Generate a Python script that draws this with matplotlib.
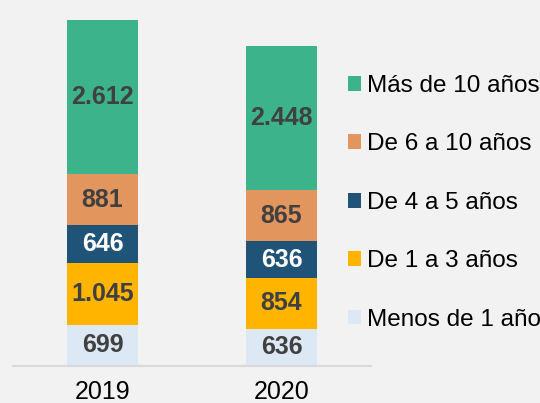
import matplotlib
matplotlib.use("Agg")
import matplotlib.pyplot as plt
from matplotlib.patches import Patch

plt.rcParams["font.family"] = ["Liberation Sans", "DejaVu Sans"]

# datos
years = ["2019", "2020"]
categories = ["Menos de 1 año", "De 1 a 3 años", "De 4 a 5 años",
              "De 6 a 10 años", "Más de 10 años"]
menos_1 = [699, 636]
de_1_3 = [1045, 854]
de_4_5 = [646, 636]
de_6_10 = [881, 865]
mas_10 = [2612, 2448]
series = [menos_1, de_1_3, de_4_5, de_6_10, mas_10]

colors = ["#DDE8F5", "#FFB400", "#1F5478", "#E2955C", "#3DB38B"]
label_colors = ["#404040", "#404040", "white", "#404040", "#404040"]
bg = "#F2F2F2"

fig = plt.figure(figsize=(5.4, 4.03), dpi=100, facecolor=bg)
ax = fig.add_axes([13 / 540, 37 / 403, 358 / 540, 346 / 403], facecolor=bg)

x = list(range(len(years)))
bottom = [0, 0]
for vals, col, lc in zip(series, colors, label_colors):
    ax.bar(x, vals, width=0.4, bottom=bottom, color=col, edgecolor="none")
    for xi, v, b in zip(x, vals, bottom):
        ax.text(xi, b + v / 2, f"{v:,}".replace(",", "."), ha="center",
                va="center", fontsize=18, fontweight="bold", color=lc)
    bottom = [b + v for b, v in zip(bottom, vals)]

ax.set_xlim(-0.5, 1.5)
ax.set_ylim(0, max(bottom))
ax.set_xticks(x)
ax.set_xticklabels(years, fontsize=18, color="black")
ax.tick_params(axis="x", length=0, pad=10)
ax.set_yticks([])
for s in ["top", "right", "left"]:
    ax.spines[s].set_visible(False)
ax.spines["bottom"].set_color("#D9D9D9")
ax.spines["bottom"].set_linewidth(1.5)

handles = [Patch(facecolor=c, edgecolor="none") for c in colors][::-1]
fig.legend(handles, categories[::-1], loc="upper left",
           bbox_to_anchor=(326 / 540, 1 - 53 / 403), frameon=False,
           fontsize=17.5, handlelength=0.55, handleheight=0.55,
           handletextpad=0.25, labelspacing=1.5)

fig.savefig("out.png", dpi=100, facecolor=bg)
